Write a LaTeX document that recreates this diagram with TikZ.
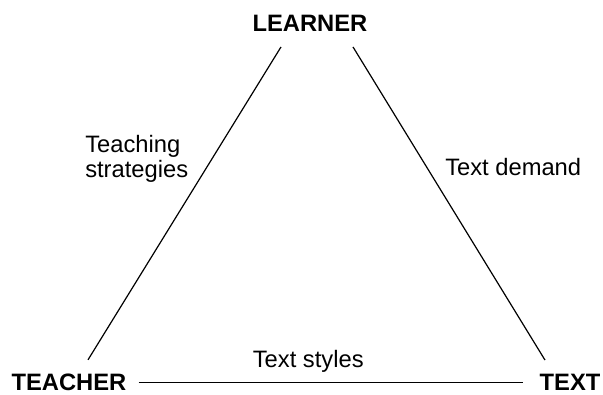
\documentclass[tikz,border=0pt]{standalone}
\usepackage{fontspec}
\setmainfont{Liberation Sans}
\usepackage{tikz}
\usetikzlibrary{positioning}
\tikzset{every node/.append style={align=center}}
\tikzset{
  corner/.style={font=\fontsize{17.8}{20}\selectfont\bfseries, inner sep=0pt},
  edgelabel/.style={font=\fontsize{17.8}{19}\selectfont, inner sep=0pt},
  side/.style={line width=0.9pt}
}

\begin{document}
\begin{tikzpicture}[x=0.75pt, y=-0.75pt]
    \useasboundingbox (0,0) rectangle (603,394);

    % Corners
    \node[corner] (learner) at (310, 23.5) {LEARNER};
    \node[corner] (teacher) at (69, 382.5) {TEACHER};
    \node[corner] (text) at (570, 382.5) {TEXT};

    % Sides
    \draw[side] ([shift={(-29,15)}]learner.south) -- ([shift={(19,-14)}]teacher.north);
    \draw[side] ([shift={(43,15)}]learner.south) -- ([shift={(-25,-14)}]text.north);
    \draw[side, shorten <=9pt, shorten >=12pt] (teacher.east) -- (text.west)
        node[edgelabel, pos=0.44, anchor=base, yshift=11.25pt] (styles) {Text styles};

    % Side labels
    \node[edgelabel, align=left, anchor=north west] (strategies) at (85, 135) {Teaching\\strategies};
    \node[edgelabel, anchor=base west] (demand) at (445, 175) {Text demand};
\end{tikzpicture}
\end{document}
